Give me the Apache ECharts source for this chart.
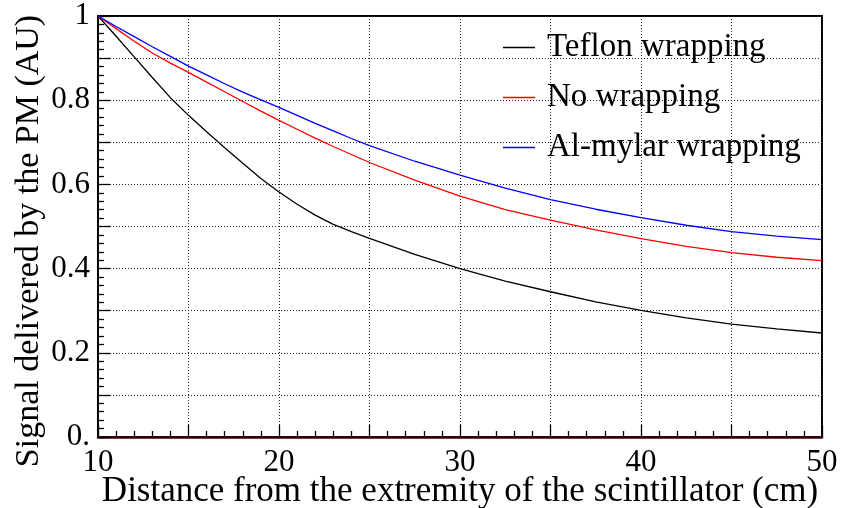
<!DOCTYPE html>
<html>
<head>
<meta charset="utf-8">
<title>Signal vs distance</title>
<script src="https://cdn.jsdelivr.net/npm/echarts@6/dist/echarts.min.js"></script>
<style>
  html, body { margin: 0; padding: 0; background: #ffffff; }
  #chart { width: 841px; height: 508px; }
</style>
</head>
<body>
<div id="chart"></div>
<script>
// Distance along the scintillator (cm)
const distance = [10, 11, 12, 13, 14, 15, 16, 17, 18, 19, 20, 21, 22, 23, 24, 25, 27.5, 30, 32.5, 35, 37.5, 40, 42.5, 45, 47.5, 50];

// Normalised PM signal for each wrapping
const teflon  = [1.000, 0.952, 0.903, 0.854, 0.806, 0.764, 0.725, 0.687, 0.650, 0.614, 0.582, 0.553, 0.527, 0.505, 0.488, 0.472, 0.434, 0.400, 0.370, 0.345, 0.321, 0.301, 0.283, 0.268, 0.257, 0.247];
const noWrap  = [1.000, 0.970, 0.940, 0.912, 0.888, 0.866, 0.843, 0.820, 0.797, 0.774, 0.752, 0.731, 0.710, 0.690, 0.671, 0.652, 0.610, 0.572, 0.540, 0.515, 0.492, 0.471, 0.453, 0.438, 0.427, 0.419];
const alMylar = [1.000, 0.975, 0.951, 0.927, 0.904, 0.881, 0.860, 0.839, 0.819, 0.801, 0.783, 0.764, 0.745, 0.727, 0.709, 0.692, 0.655, 0.622, 0.591, 0.564, 0.541, 0.521, 0.503, 0.488, 0.477, 0.469];

const seriesNames = ['Teflon wrapping', 'No wrapping', 'Al-mylar wrapping'];
const seriesColors = ['#000000', '#ff0000', '#0000ff'];

// Labelled ticks
const xTickLabels = { 10: '10', 20: '20', 30: '30', 40: '40', 50: '50' };
const yTickLabels = { 0: '0.', 2: '0.2', 4: '0.4', 6: '0.6', 8: '0.8', 10: '1' };

const xTitle = 'Distance from the extremity of the scintillator (cm)';
const yTitle = 'Signal delivered by the PM (AU)';

const serif = 'Liberation Serif';

function pairs(ys) { return distance.map((x, i) => [x, ys[i]]); }

const chart = echarts.init(document.getElementById('chart'), null, { renderer: 'canvas' });

const gridLine = { show: true, lineStyle: { color: '#222', width: 1, type: [1, 2] } };

chart.setOption({
  backgroundColor: '#ffffff',
  animation: false,
  grid: {
    left: 98, top: 16, width: 724, height: 421,
    containLabel: false, outerBoundsMode: 'none',
    show: true, borderColor: '#000', borderWidth: 2, backgroundColor: 'transparent'
  },
  legend: {
    orient: 'vertical',
    left: 498,
    top: 26,
    itemWidth: 32,
    itemHeight: 1.5,
    itemGap: 17,
    icon: 'rect',
    data: seriesNames,
    textStyle: { fontFamily: serif, fontSize: 33, color: '#000', padding: [0, 0, 0, 7] }
  },
  xAxis: {
    type: 'value',
    min: 10,
    max: 50,
    interval: 5,
    name: xTitle,
    nameLocation: 'middle',
    nameGap: 37,
    nameMoveOverlap: false,
    nameTextStyle: { fontFamily: serif, fontSize: 35, color: '#000' },
    axisLine: { show: true, onZero: false, lineStyle: { color: '#3a0000', width: 2.5 } },
    axisTick: { show: true, inside: true, length: 12, lineStyle: { color: '#000', width: 1.3 } },
    minorTick: { show: true, splitNumber: 5, length: 6, lineStyle: { color: '#000', width: 1.3 } },
    splitLine: gridLine,
    axisLabel: {
      margin: 10,
      fontFamily: serif, fontSize: 31, color: '#000',
      showMinLabel: true, showMaxLabel: true,
      formatter: v => xTickLabels[Math.round(v)] || ''
    }
  },
  yAxis: {
    type: 'value',
    min: 0,
    max: 1,
    interval: 0.1,
    name: yTitle,
    nameLocation: 'middle',
    nameRotate: 90,
    nameGap: 52,
    nameMoveOverlap: false,
    nameTextStyle: { fontFamily: serif, fontSize: 34, color: '#000', padding: [0, 29, 0, 0] },
    axisLine: { show: true, lineStyle: { color: '#000', width: 2 } },
    axisTick: { show: true, inside: true, length: 12, lineStyle: { color: '#000', width: 1.3 } },
    minorTick: { show: true, splitNumber: 5, length: 6, lineStyle: { color: '#000', width: 1.3 } },
    splitLine: gridLine,
    axisLabel: {
      margin: 8,
      fontFamily: serif, fontSize: 31, color: '#000',
      showMinLabel: true, showMaxLabel: true,
      formatter: v => { const k = Math.round(v * 10); return yTickLabels[k] !== undefined ? yTickLabels[k] : ''; }
    }
  },
  series: [teflon, noWrap, alMylar].map((ys, i) => ({
    name: seriesNames[i],
    type: 'line',
    data: pairs(ys),
    showSymbol: false,
    smooth: false,
    color: seriesColors[i],
    lineStyle: { color: seriesColors[i], width: 1.3 },
    z: 3
  }))
});
</script>
</body>
</html>
